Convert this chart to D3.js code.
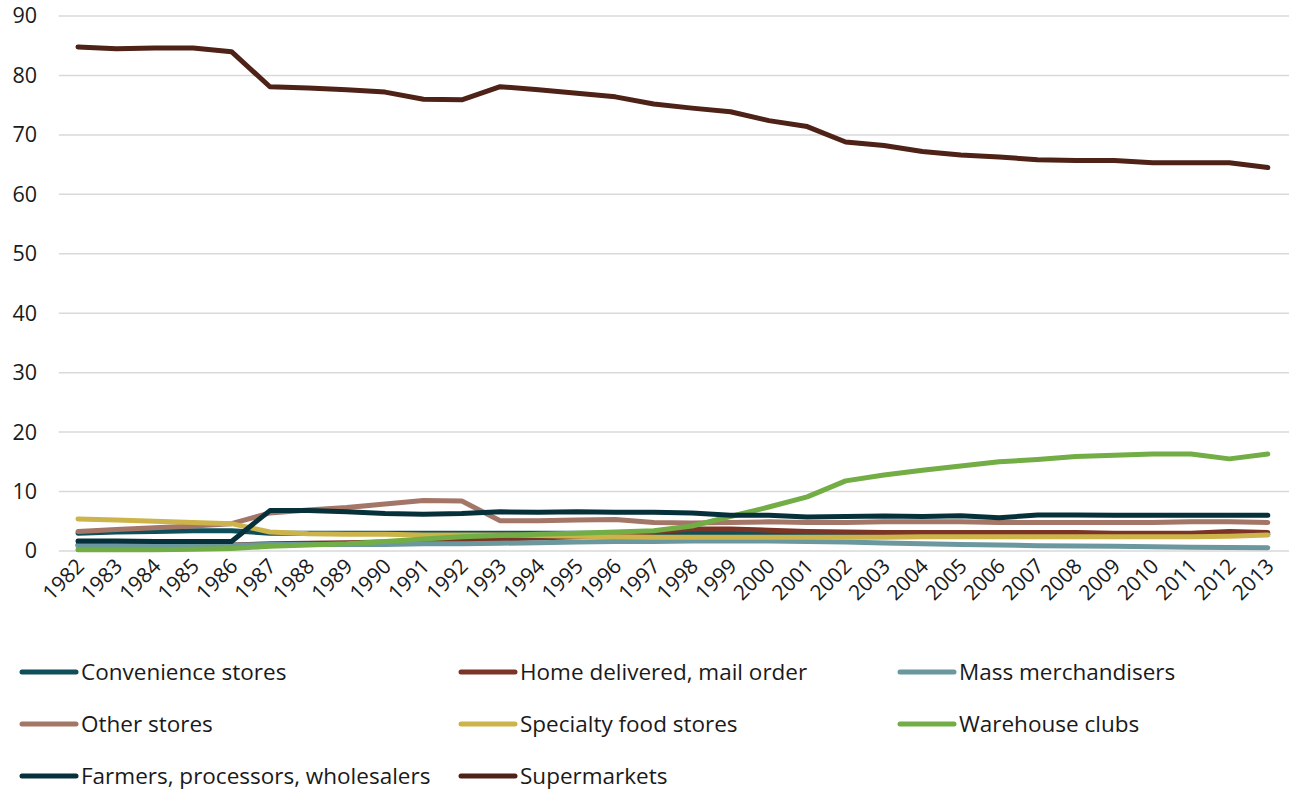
<!DOCTYPE html>
<html>
<head>
<meta charset="utf-8">
<script src="https://cdn.jsdelivr.net/npm/d3@7"></script>
<style>
  html, body { margin: 0; padding: 0; background: #fff; }
  svg { display: block; font-family: "Open Sans", "Noto Sans", sans-serif; }
</style>
</head>
<body>
<svg id="chart" width="1289" height="794"></svg>
<script>
const years = ["1982","1983","1984","1985","1986","1987","1988","1989","1990","1991","1992","1993","1994","1995","1996","1997","1998","1999","2000","2001","2002","2003","2004","2005","2006","2007","2008","2009","2010","2011","2012","2013"];
const yTicks = [0,10,20,30,40,50,60,70,80,90];

const seriesNames = ["Convenience stores","Home delivered, mail order","Mass merchandisers","Other stores","Specialty food stores","Warehouse clubs","Farmers, processors, wholesalers","Supermarkets"];
const seriesColors = ["#0f4f5b","#7a3527","#6a989e","#a47667","#cdb44a","#72ad45","#06313a","#4e2217"];

const convenience = [3.0,3.2,3.3,3.4,3.4,3.0,3.0,3.0,3.0,3.0,3.0,3.0,3.0,3.0,3.0,3.0,3.0,3.0,3.0,3.0,2.9,2.8,2.8,2.8,2.8,2.8,2.8,2.8,2.8,2.8,2.8,2.8];
const homeDelivered = [1.0,1.0,1.0,1.0,1.0,1.2,1.3,1.4,1.5,1.7,1.8,2.0,2.2,2.4,2.7,3.2,3.7,3.7,3.5,3.3,3.2,3.1,3.1,3.1,3.1,3.1,3.1,3.0,3.0,3.0,3.3,3.1];
const massMerch = [0.9,0.9,0.9,0.9,0.95,1.1,1.1,1.1,1.1,1.2,1.2,1.3,1.4,1.5,1.6,1.6,1.7,1.7,1.7,1.6,1.5,1.35,1.2,1.1,1.0,0.9,0.85,0.8,0.7,0.65,0.6,0.55];
const otherStores = [3.3,3.6,3.9,4.2,4.6,6.4,6.9,7.3,7.9,8.5,8.4,5.1,5.1,5.2,5.3,4.8,4.7,4.8,4.9,4.8,4.8,4.9,4.9,4.9,4.8,4.8,4.8,4.8,4.8,4.9,4.9,4.8];
const specialty = [5.4,5.2,5.0,4.8,4.6,3.2,2.9,2.8,2.8,2.7,2.7,2.7,2.6,2.5,2.4,2.3,2.3,2.3,2.3,2.3,2.3,2.3,2.4,2.4,2.4,2.4,2.4,2.4,2.4,2.4,2.5,2.7];
const warehouse = [0.2,0.2,0.2,0.3,0.4,0.8,1.0,1.2,1.6,2.0,2.4,2.6,2.8,3.0,3.2,3.4,4.2,5.8,7.4,9.1,11.8,12.8,13.6,14.3,15.0,15.4,15.9,16.1,16.3,16.3,15.5,16.3];
const farmers = [1.7,1.7,1.6,1.6,1.6,6.8,6.8,6.6,6.3,6.2,6.3,6.6,6.5,6.6,6.5,6.5,6.4,6.0,6.0,5.7,5.8,5.9,5.8,5.95,5.6,6.05,6.05,6.0,6.0,6.0,6.0,6.0];
const supermarkets = [84.8,84.5,84.6,84.6,84.0,78.1,77.9,77.6,77.2,76.0,75.9,78.1,77.6,77.0,76.4,75.2,74.5,73.9,72.4,71.4,68.8,68.2,67.2,66.6,66.3,65.8,65.7,65.7,65.3,65.3,65.3,64.5];

const seriesValues = [convenience, homeDelivered, massMerch, otherStores, specialty, warehouse, farmers, supermarkets];

const svg = d3.select("#chart");
const plotLeft = 58.8, plotRight = 1287, plotTop = 16, plotBottom = 551;

const x = d3.scaleBand().domain(years).range([plotLeft, plotRight]);
const y = d3.scaleLinear().domain([0, 90]).range([plotBottom, plotTop]);

// gridlines
svg.append("g").selectAll("line").data(yTicks).join("line")
  .attr("x1", plotLeft).attr("x2", 1289)
  .attr("y1", d => y(d)).attr("y2", d => y(d))
  .attr("stroke", "#d9d9d9").attr("stroke-width", 1.5);

// y axis labels
const yAxis = d3.axisLeft(y).tickValues(yTicks).tickSize(0).tickPadding(0);
const gy = svg.append("g").attr("transform", `translate(37,0)`).call(yAxis);
gy.select(".domain").remove();
gy.selectAll("text").attr("font-size", 21.5).attr("fill", "#1a1a1a")
  .attr("font-family", "'Open Sans', 'Noto Sans', sans-serif");

// x axis labels
const xAxis = d3.axisBottom(x).tickSize(0).tickPadding(0);
const gx = svg.append("g").attr("transform", `translate(0,${plotBottom})`).call(xAxis);
gx.select(".domain").remove();
gx.selectAll("text")
  .attr("font-size", 21).attr("fill", "#1a1a1a")
  .attr("font-family", "'Open Sans', 'Noto Sans', sans-serif")
  .attr("text-anchor", "end")
  .attr("dy", null)
  .attr("y", 0).attr("x", 0)
  .attr("transform", "translate(-5,4) rotate(-45)")
  .attr("dominant-baseline", "hanging");

// lines
const line = d3.line()
  .x((d, i) => x(years[i]) + x.bandwidth() / 2)
  .y(d => y(d));

svg.append("g").selectAll("path").data(seriesValues).join("path")
  .attr("d", d => line(d))
  .attr("fill", "none")
  .attr("stroke", (d, i) => seriesColors[i])
  .attr("stroke-width", 5)
  .attr("stroke-linejoin", "round")
  .attr("stroke-linecap", "round");

// legend
const colX = [22, 461, 900];
const rowY = [672, 724, 776];
const leg = svg.append("g").selectAll("g").data(seriesNames).join("g")
  .attr("transform", (d, i) => `translate(${colX[i % 3]},${rowY[Math.floor(i / 3)]})`);
leg.append("line").attr("x1", 0).attr("x2", 54).attr("y1", 0).attr("y2", 0)
  .attr("stroke", (d, i) => seriesColors[i]).attr("stroke-width", 5).attr("stroke-linecap", "round");
leg.append("text").attr("x", 59).attr("y", 0).attr("dy", "0.35em")
  .attr("font-size", 22.5).attr("fill", "#1a1a1a").text(d => d);
</script>
</body>
</html>
